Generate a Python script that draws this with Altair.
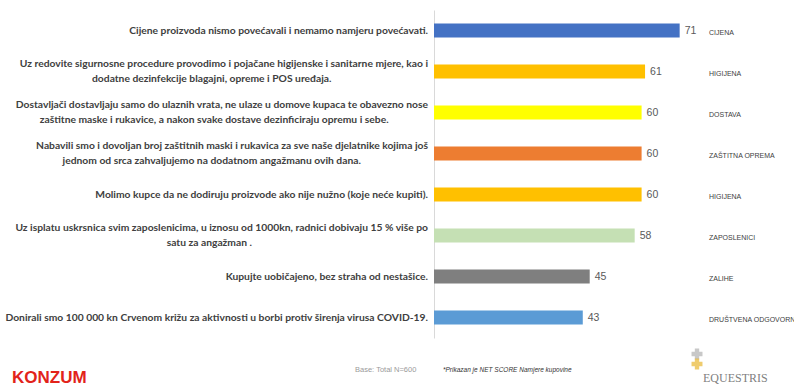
import altair as alt
import pandas as pd

# ---- data ----
line1 = [
    "Cijene proizvoda nismo povećavali i nemamo namjeru povećavati.",
    "Uz redovite sigurnosne procedure provodimo i pojačane higijenske i sanitarne mjere, kao i",
    "Dostavljači dostavljaju samo do ulaznih vrata, ne ulaze u domove kupaca te obavezno nose",
    "Nabavili smo i dovoljan broj zaštitnih maski i rukavica za sve naše djelatnike kojima još",
    "Molimo kupce da ne dodiruju proizvode ako nije nužno (koje neće kupiti).",
    "Uz isplatu uskrsnica svim zaposlenicima, u iznosu od 1000kn, radnici dobivaju 15 % više po",
    "Kupujte uobičajeno, bez straha od nestašice.",
    "Donirali smo 100 000 kn Crvenom križu za aktivnosti u borbi protiv širenja virusa COVID-19.",
]
line2 = [
    "",
    "dodatne dezinfekcije blagajni, opreme i POS uređaja.",
    "zaštitne maske i rukavice, a nakon svake dostave dezinficiraju opremu i sebe.",
    "jednom od srca zahvaljujemo na dodatnom angažmanu ovih dana.",
    "",
    "satu za angažman .",
    "",
    "",
]
values = [71, 61, 60, 60, 60, 58, 45, 43]
groups = ["CIJENA", "HIGIJENA", "DOSTAVA", "ZAŠTITNA OPREMA", "HIGIJENA",
          "ZAPOSLENICI", "ZALIHE", "DRUŠTVENA ODGOVORNOST"]
colors = ["#4472C4", "#FFC000", "#FFFF00", "#ED7D31", "#FFC000",
          "#C5E0B4", "#7F7F7F", "#5B9BD5"]
base_note = ["Base: Total N=600"]
score_note = ["*Prikazan je NET SCORE Namjere kupovine"]
logo_left = ["KONZUM"]
logo_right = ["EQUESTRIS"]

ids = [f"r{i}" for i in range(len(values))]
df = pd.DataFrame({
    "id": ids, "line1": line1, "line2": line2, "value": values,
    "group": groups,
})

W, H = 346, 328
PX = W / 100.0
CW = 4.86  # approx px per character of left labels
LABEL_FONT = "Lato"
LABEL_SIZE = 10.3
GRAY = "#404040"

y_enc = alt.Y("id:N", sort=ids, scale=alt.Scale(paddingInner=0, paddingOuter=0),
              axis=alt.Axis(labels=False, ticks=False, title=None, grid=False,
                            domainColor="#d9d9d9", domainWidth=1))
x_scale = alt.Scale(domain=[0, 100])

base = alt.Chart(df)

bars = base.mark_bar(height=14).encode(
    y=y_enc,
    x=alt.X("value:Q", scale=x_scale, axis=None),
    color=alt.Color("id:N", scale=alt.Scale(domain=ids, range=colors), legend=None),
)

vals = base.mark_text(align="left", baseline="middle", dx=5, fontSize=10.5,
                      color="#595959", font="Liberation Sans").encode(
    y=alt.Y("id:N", sort=ids), x=alt.X("value:Q", scale=x_scale), text="value:Q")

grp = base.mark_text(align="left", baseline="middle", dy=2, fontSize=7,
                     color=GRAY, font="Liberation Sans").encode(
    y=alt.Y("id:N", sort=ids), x=alt.value(275), text="group:N")

single = base.transform_filter("datum.line2 == ''").mark_text(
    align="right", baseline="middle", fontSize=LABEL_SIZE, fontWeight="bold",
    font=LABEL_FONT, color=GRAY).encode(
    y=alt.Y("id:N", sort=ids), x=alt.value(-6), text="line1:N")

first = base.transform_filter("datum.line2 != ''").mark_text(
    align="right", baseline="middle", dy=-7.5, fontSize=LABEL_SIZE, fontWeight="bold",
    font=LABEL_FONT, color=GRAY).encode(
    y=alt.Y("id:N", sort=ids), x=alt.value(-6), text="line1:N")

second = base.transform_filter("datum.line2 != ''").transform_calculate(
    cx=f"-(6 + length(datum.line1) * {CW} / 2) / {PX}"
).mark_text(
    align="center", baseline="middle", dy=7.5, fontSize=LABEL_SIZE, fontWeight="bold",
    font=LABEL_FONT, color=GRAY).encode(
    y=alt.Y("id:N", sort=ids), x=alt.X("cx:Q", scale=x_scale), text="line2:N")

def note(txt, x, y, **kw):
    return alt.Chart(pd.DataFrame({"t": txt})).mark_text(**kw).encode(
        text="t:N", x=alt.value(x - 434), y=alt.value(y - 10))

n1 = note(base_note, 355, 370, align="left", baseline="middle", fontSize=7.5,
          color="#9a9a9a", font="Liberation Sans")
n2 = note(score_note, 443, 370, align="left", baseline="middle", fontSize=6.5,
          fontStyle="italic", color="#333333", font="Liberation Sans")
k = note(logo_left, 12, 378, align="left", baseline="middle", fontSize=17,
         fontWeight="bold", color="#E2231A", font="Liberation Sans")
e = note(logo_right, 703, 378, align="left", baseline="middle", fontSize=12,
         color="#7f7f7f", font="Liberation Serif")
cross_top = alt.Chart(pd.DataFrame({"t": ["+"]})).mark_point(
    shape="cross", filled=True, size=120, color="#b0b0b0").encode(
    x=alt.value(697 - 434), y=alt.value(354 - 10))
cross_bot = alt.Chart(pd.DataFrame({"t": ["+"]})).mark_point(
    shape="cross", filled=True, size=120, color="#E8B630").encode(
    x=alt.value(697 - 434), y=alt.value(364 - 10))

chart = alt.layer(bars, vals, grp, single, first, second, n1, n2, k, e,
                  cross_top, cross_bot).properties(
    width=W, height=H,
    autosize=alt.AutoSizeParams(type="none"),
    padding={"left": 434, "top": 10, "right": 794 - 434 - W, "bottom": 385 - 10 - H},
    background="white",
).configure_view(stroke=None)

chart.save("out.html", embed_options={"renderer": "svg", "actions": False})
